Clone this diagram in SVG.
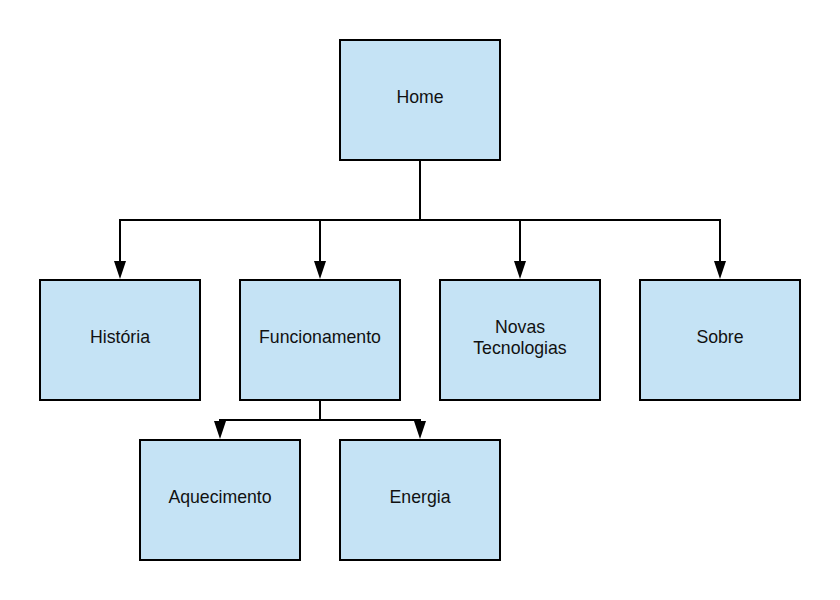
<svg xmlns="http://www.w3.org/2000/svg" width="840" height="600" viewBox="0 0 840 600">
<style>
.box{fill:#c5e3f5;stroke:#000;stroke-width:2}
.lbl{font-family:"Liberation Sans",Arial,sans-serif;font-size:17.7px;fill:#111;text-anchor:middle}
.conn{fill:none;stroke:#000;stroke-width:2}
.head{fill:#000}
</style>
<rect width="840" height="600" fill="#fff"/>
<g id="connectors">
<path class="conn" d="M420,160 V220 H120 V262"/>
<path class="conn" d="M320,220 V262"/>
<path class="conn" d="M420,220 H720 V262"/>
<path class="conn" d="M520,220 V262"/>
<path class="conn" d="M320,400 V420 H220 V422"/>
<path class="conn" d="M320,420 H420 V422"/>
<path class="head" d="M114,261 L126,261 L120,279 Z"/>
<path class="head" d="M314,261 L326,261 L320,279 Z"/>
<path class="head" d="M514,261 L526,261 L520,279 Z"/>
<path class="head" d="M714,261 L726,261 L720,279 Z"/>
<path class="head" d="M214,421 L226,421 L220,439 Z"/>
<path class="head" d="M414,421 L426,421 L420,439 Z"/>
</g>
<g id="home"><rect class="box" x="340" y="40" width="160" height="120"/><text class="lbl" x="420" y="103">Home</text></g>
<g id="historia"><rect class="box" x="40" y="280" width="160" height="120"/><text class="lbl" x="120" y="343">História</text></g>
<g id="funcionamento"><rect class="box" x="240" y="280" width="160" height="120"/><text class="lbl" x="320" y="343">Funcionamento</text></g>
<g id="novas"><rect class="box" x="440" y="280" width="160" height="120"/><text class="lbl" x="520" y="333">Novas</text><text class="lbl" x="520" y="354">Tecnologias</text></g>
<g id="sobre"><rect class="box" x="640" y="280" width="160" height="120"/><text class="lbl" x="720" y="343">Sobre</text></g>
<g id="aquecimento"><rect class="box" x="140" y="440" width="160" height="120"/><text class="lbl" x="220" y="503">Aquecimento</text></g>
<g id="energia"><rect class="box" x="340" y="440" width="160" height="120"/><text class="lbl" x="420" y="503">Energia</text></g>
</svg>
